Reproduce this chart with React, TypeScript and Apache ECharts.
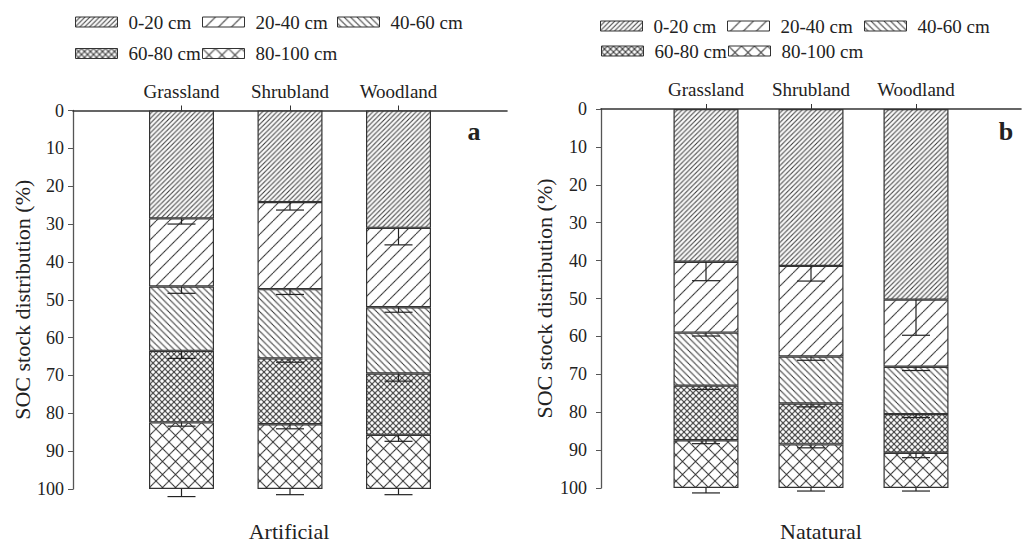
import React, { useEffect, useRef } from 'react';
import * as echarts from 'echarts';

const categories = ['Grassland', 'Shrubland', 'Woodland'];
const layers = ['0-20 cm', '20-40 cm', '40-60 cm', '60-80 cm', '80-100 cm'];
const yTicks = { min: 0, max: 100, interval: 10 };
const panelTitles = ['Artificial', 'Natatural'];
const panelLetters = ['a', 'b'];
const yName = 'SOC stock distribution (%)';

// Artificial (panel a): share of SOC stock per layer (%)
const art0to20 = [28.5, 24.2, 31.0];
const art20to40 = [18.0, 23.0, 21.0];
const art40to60 = [17.0, 18.3, 17.5];
const art60to80 = [18.9, 17.4, 16.2];
const art80to100 = [17.6, 17.1, 14.3];
// Artificial error bars
const artErr0to20 = [1.5, 2.1, 4.5];
const artErr20to40 = [1.8, 1.4, 1.3];
const artErr40to60 = [2.0, 1.0, 2.0];
const artErr60to80 = [1.0, 1.2, 1.7];
const artErr80to100 = [2.0, 1.5, 1.5];

// Natural (panel b)
const nat0to20 = [40.3, 41.4, 50.3];
const nat20to40 = [18.7, 23.9, 17.7];
const nat40to60 = [14.0, 12.4, 12.5];
const nat60to80 = [14.4, 10.8, 10.2];
const nat80to100 = [12.6, 11.5, 9.3];
// Natural error bars
const natErr0to20 = [5.0, 4.0, 9.4];
const natErr20to40 = [0.9, 1.0, 1.0];
const natErr40to60 = [1.0, 0.9, 0.9];
const natErr60to80 = [0.9, 0.9, 1.3];
const natErr80to100 = [1.3, 0.8, 0.8];

const FONT = '"Liberation Serif", "DejaVu Serif", serif';

function makePattern(kind: 'fwd' | 'back' | 'cross', period: number) {
  const s = 10;
  const P = Math.round(period * s);
  const c = document.createElement('canvas');
  c.width = P;
  c.height = P;
  const ctx = c.getContext('2d')!;
  ctx.fillStyle = '#ffffff';
  ctx.fillRect(0, 0, P, P);
  ctx.strokeStyle = '#2a2a2a';
  ctx.lineWidth = 0.95 * s;
  const fwd = () => {
    for (let k = -1; k <= 1; k++) {
      ctx.beginPath();
      ctx.moveTo(-P, (k + 2) * P);
      ctx.lineTo(2 * P, (k - 1) * P);
      ctx.stroke();
    }
  };
  const back = () => {
    for (let k = -1; k <= 1; k++) {
      ctx.beginPath();
      ctx.moveTo(-P, (k - 1) * P);
      ctx.lineTo(2 * P, (k + 2) * P);
      ctx.stroke();
    }
  };
  if (kind === 'fwd' || kind === 'cross') fwd();
  if (kind === 'back' || kind === 'cross') back();
  return {
    image: c.toDataURL(),
    repeat: 'repeat',
    imageWidth: P / s,
    imageHeight: P / s,
  };
}

export default function App() {
  const ref = useRef<HTMLDivElement>(null);
  useEffect(() => {
    if (!ref.current) return;
    const chart = echarts.init(ref.current, undefined, { renderer: 'svg' });
    const patterns = [
      makePattern('fwd', 4.8),
      makePattern('fwd', 13),
      makePattern('back', 6.5),
      makePattern('cross', 6),
      makePattern('cross', 13),
    ];
    const panels = [
      {
        vals: [art0to20, art20to40, art40to60, art60to80, art80to100],
        errs: [artErr0to20, artErr20to40, artErr40to60, artErr60to80, artErr80to100],
      },
      {
        vals: [nat0to20, nat20to40, nat40to60, nat60to80, nat80to100],
        errs: [natErr0to20, natErr20to40, natErr40to60, natErr60to80, natErr80to100],
      },
    ];
    const axisCats = ['', ...categories, ''];
    const grids = [
      { left: 73, top: 110.5, width: 434, height: 378.5 },
      { left: 601, top: 109, width: 433, height: 379 },
    ];
    const yLabelMargin = [9, 14];
    const yNameGap = [39, 46];

    const xAxis = grids.map((_, p) => ({
      gridIndex: p,
      type: 'category',
      position: 'top',
      data: axisCats,
      boundaryGap: false,
      axisLine: { show: true, lineStyle: { color: '#333', width: 1.6 } },
      axisTick: {
        show: true,
        length: 5,
        interval: (i: number) => i > 0 && i < axisCats.length - 1,
        lineStyle: { color: '#333', width: 1 },
      },
      axisLabel: { interval: 0, margin: 10, fontSize: 19, fontFamily: FONT, color: '#222' },
      splitLine: { show: false },
    }));
    const yAxis = grids.map((_, p) => ({
      gridIndex: p,
      type: 'value',
      inverse: true,
      min: yTicks.min,
      max: yTicks.max,
      interval: yTicks.interval,
      name: yName,
      nameLocation: 'middle',
      nameGap: yNameGap[p],
      nameTextStyle: { fontSize: 22, fontFamily: FONT, color: '#222' },
      axisLine: { show: true, lineStyle: { color: '#555', width: 1.3 } },
      axisTick: { show: true, length: 5, lineStyle: { color: '#555' } },
      axisLabel: { margin: yLabelMargin[p], fontSize: 18, fontFamily: FONT, color: '#222' },
      splitLine: { show: false },
    }));

    const series: any[] = [];
    panels.forEach((panel, p) => {
      panel.vals.forEach((vals, i) => {
        series.push({
          type: 'bar',
          name: layers[i],
          xAxisIndex: p,
          yAxisIndex: p,
          stack: 'panel' + p,
          barWidth: 65,
          data: ['-', ...vals, '-'],
          itemStyle: { color: patterns[i], borderColor: '#333', borderWidth: 1.2 },
          emphasis: { disabled: true },
          silent: true,
        });
      });
      const errData: number[][] = [];
      categories.forEach((_, j) => {
        let cum = 0;
        panel.vals.forEach((vals, i) => {
          cum += vals[j];
          errData.push([j + 1, cum, cum + panel.errs[i][j]]);
        });
      });
      series.push({
        type: 'custom',
        name: 'err' + p,
        xAxisIndex: p,
        yAxisIndex: p,
        clip: false,
        z: 10,
        silent: true,
        encode: { x: 0, y: [1, 2] },
        data: errData,
        renderItem: (params: any, api: any) => {
          const x = api.value(0);
          const a = api.coord([x, api.value(1)]);
          const b = api.coord([x, api.value(2)]);
          const half = 14;
          const st = { stroke: '#222', lineWidth: 1.2 };
          return {
            type: 'group',
            children: [
              { type: 'line', shape: { x1: a[0], y1: a[1], x2: b[0], y2: b[1] }, style: st },
              { type: 'line', shape: { x1: b[0] - half, y1: b[1], x2: b[0] + half, y2: b[1] }, style: st },
            ],
          };
        },
      });
    });

    const legendPos = [
      [
        [75, 12], [202, 12], [337, 12], [75, 43.5], [202, 43.5],
      ],
      [
        [600, 16], [727, 16], [864, 16], [601, 41], [728, 41],
      ],
    ];
    const legend: any[] = [];
    legendPos.forEach((pos) => {
      pos.forEach((xy, i) => {
        legend.push({
          data: [layers[i]],
          left: xy[0],
          top: xy[1],
          padding: 0,
          itemWidth: 42,
          itemHeight: 10,
          icon: 'rect',
          selectedMode: false,
          itemStyle: { borderColor: '#333', borderWidth: 1 },
          textStyle: { fontSize: 19, fontFamily: FONT, color: '#222', padding: [0, 0, 0, 6], lineHeight: 20 },
        });
      });
    });

    const graphic = [
      { type: 'text', x: 474, y: 131, style: { text: panelLetters[0], fontSize: 26, fontWeight: 'bold', fontFamily: FONT, fill: '#222', align: 'center', verticalAlign: 'middle' } },
      { type: 'text', x: 1006, y: 131, style: { text: panelLetters[1], fontSize: 26, fontWeight: 'bold', fontFamily: FONT, fill: '#222', align: 'center', verticalAlign: 'middle' } },
      { type: 'text', x: 289, y: 531, style: { text: panelTitles[0], fontSize: 22, fontFamily: FONT, fill: '#222', align: 'center', verticalAlign: 'middle' } },
      { type: 'text', x: 821, y: 531, style: { text: panelTitles[1], fontSize: 22, fontFamily: FONT, fill: '#222', align: 'center', verticalAlign: 'middle' } },
    ];

    chart.setOption({
      animation: false,
      backgroundColor: '#fff',
      grid: grids,
      xAxis,
      yAxis,
      legend,
      series,
      graphic,
    } as any);
    return () => chart.dispose();
  }, []);
  return (
    <div
      ref={ref}
      style={{ position: 'absolute', left: 0, top: 0, width: 1024, height: 542 }}
    />
  );
}
